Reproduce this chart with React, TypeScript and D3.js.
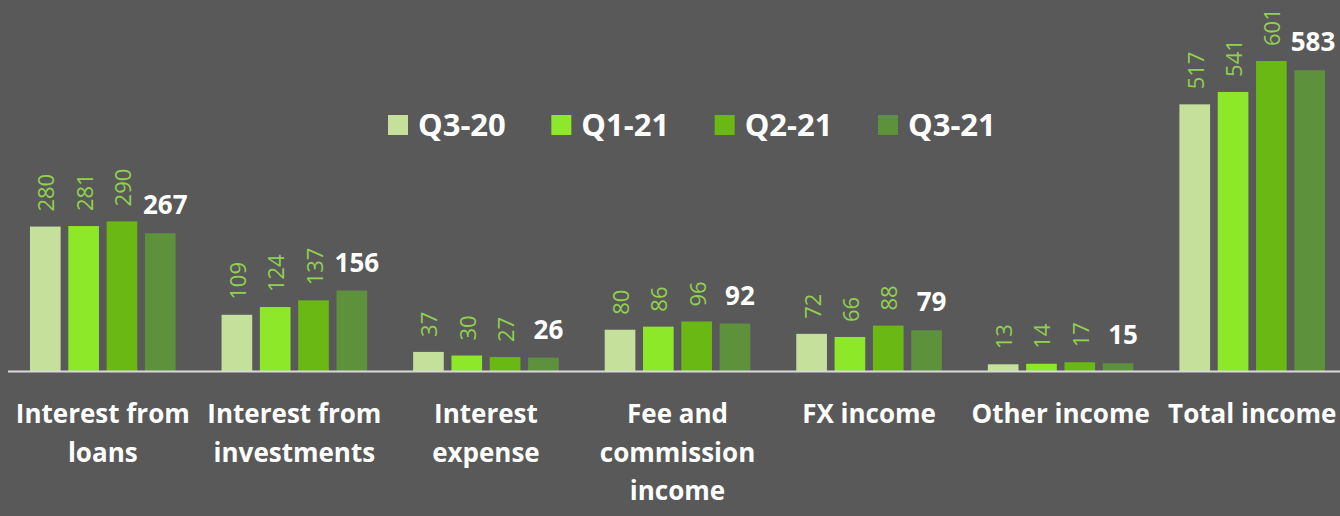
import React from "react";
import * as d3 from "d3";

const categories: string[][] = [
  ["Interest from", "loans"],
  ["Interest from", "investments"],
  ["Interest", "expense"],
  ["Fee and", "commission", "income"],
  ["FX income"],
  ["Other income"],
  ["Total income"],
];
const seriesNames = ["Q3-20", "Q1-21", "Q2-21", "Q3-21"];
const q320 = [280, 109, 37, 80, 72, 13, 517];
const q121 = [281, 124, 30, 86, 66, 14, 541];
const q221 = [290, 137, 27, 96, 88, 17, 601];
const q321 = [267, 156, 26, 92, 79, 15, 583];
const seriesValues = [q320, q121, q221, q321];
const colors = ["#c4e09b", "#8de82a", "#6ab814", "#5e913b"];

const W = 1340;
const H = 516;
const FONT = "'Open Sans', Lato, sans-serif";

export default function App() {
  const idx = categories.map((_, i) => String(i));
  const x = d3.scaleBand<string>().domain(idx).range([7, 1348]).paddingInner(0.24).paddingOuter(0.12);
  const xs = d3.scaleBand<string>().domain(seriesNames).range([0, x.bandwidth()]).paddingInner(0.2).paddingOuter(0);
  const y = d3.scaleLinear().domain([0, 601]).range([371, 61]);

  const legendX = d3.scaleLinear().domain([0, 3]).range([388, 878]);

  return (
    <svg width={W} height={H} style={{ position: "absolute", left: 0, top: 0 }} fontFamily={FONT}>
      <rect x={0} y={0} width={W} height={H} fill="#595959" />
      {categories.map((lines, ci) => {
        const gx = x(String(ci))!;
        return (
          <g key={ci} transform={`translate(${gx},0)`}>
            {seriesNames.map((s, si) => {
              const v = seriesValues[si][ci];
              const bx = xs(s)!;
              const bw = xs.bandwidth();
              const top = y(v);
              const cx = bx + bw / 2;
              return (
                <g key={s}>
                  <rect x={bx} y={top} width={bw} height={y(0) - top} fill={colors[si]} />
                  {si < 3 ? (
                    <text
                      transform={`translate(${cx},${top - 15}) rotate(-90)`}
                      textAnchor="start"
                      dominantBaseline="central"
                      fontSize={22}
                      fill="#92d050"
                    >
                      {v}
                    </text>
                  ) : (
                    <text
                      x={Math.min(gx + cx + 5, 1313) - gx}
                      y={top - 19}
                      textAnchor="middle"
                      fontSize={26}
                      fontWeight="bold"
                      fill="#ffffff"
                    >
                      {v}
                    </text>
                  )}
                </g>
              );
            })}
            {lines.map((l, li) => (
              <text
                key={li}
                x={x.bandwidth() / 2}
                y={423 + li * 38.5}
                textAnchor="middle"
                fontSize={26}
                fontWeight="bold"
                fill="#ffffff"
              >
                {l}
              </text>
            ))}
          </g>
        );
      })}
      <line x1={8} x2={W} y1={371.5} y2={371.5} stroke="#d9d9d9" strokeWidth={2} />
      {seriesNames.map((s, si) => (
        <g key={s} transform={`translate(${legendX(si)},115)`}>
          <rect x={0} y={0} width={20} height={20} fill={colors[si]} />
          <text x={30} y={21} fontSize={31} fontWeight="bold" fill="#ffffff">
            {s}
          </text>
        </g>
      ))}
    </svg>
  );
}
